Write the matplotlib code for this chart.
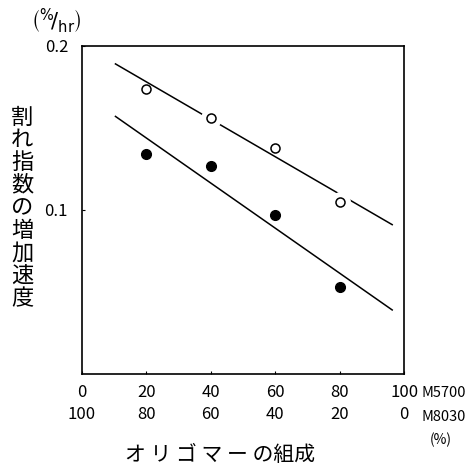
import matplotlib
matplotlib.use("Agg")
import matplotlib.pyplot as plt
import numpy as np

plt.rcParams["font.family"] = ["Noto Sans CJK JP", "DejaVu Sans"]

# composition (% M5700), M8030 = 100 - M5700
m5700 = [0, 20, 40, 60, 80, 100]
m8030 = [100, 80, 60, 40, 20, 0]

# measured points
x_pts = [20, 40, 60, 80]
open_rate = [0.174, 0.156, 0.138, 0.105]
filled_rate = [0.134, 0.127, 0.097, 0.053]
open_gap = [False, True, False, True]  # line broken around these circles

# fitted straight lines (end points)
fit_x = [10.4, 96.3]
open_fit = [0.189, 0.091]
filled_fit = [0.157, 0.039]

fig = plt.figure(figsize=(4.71, 4.68), dpi=100)
ax = fig.add_axes([0.174, 0.201, 0.684, 0.701])

ax.plot(fit_x, open_fit, color="black", lw=1.1, zorder=2)
ax.plot(fit_x, filled_fit, color="black", lw=1.1, zorder=2)

gx = [x for x, g in zip(x_pts, open_gap) if g]
gy = [y for y, g in zip(open_rate, open_gap) if g]
ax.plot(gx, gy, "o", ms=14, mfc="white", mec="white", zorder=3)
ax.plot(x_pts, open_rate, "o", ms=6.5, mfc="white", mec="black", mew=1.1, zorder=4)
ax.plot(x_pts, filled_rate, "o", ms=7, mfc="black", mec="black", zorder=4)

ax.set_xlim(0, 100)
ax.set_ylim(0, 0.2)
ax.set_xticks(m5700)
ax.set_xticklabels([f"{a}\n{b}" for a, b in zip(m5700, m8030)], fontsize=12)
for lab in ax.get_xticklabels():
    lab.set_linespacing(1.4)
ax.set_yticks([0.1, 0.2])
ax.set_yticklabels(["0.1", "0.2"], fontsize=12)
ax.tick_params(direction="in", length=2, width=0.8, pad=7)
ax.tick_params(axis="y", pad=10)
for s in ax.spines.values():
    s.set_linewidth(1.2)

ax.text(1.053, -0.058, "M5700", transform=ax.transAxes, fontsize=10.5, va="center", ha="left")
ax.text(1.053, -0.13, "M8030", transform=ax.transAxes, fontsize=10.5, va="center", ha="left")
fig.text(0.935, 0.06, "(%)", fontsize=10, ha="center", va="center")

fig.text(0.468, 0.028, "オ リ ゴ マ ー の組成", fontsize=15, ha="center", va="center")
fig.text(0.047, 0.556, "\n".join("割れ指数の増加速度"), fontsize=16,
         ha="center", va="center", linespacing=0.98)
fig.text(0.12, 0.955, r"$\left(^{\%}\!/_{\mathrm{hr}}\right)$", fontsize=15,
         ha="center", va="center")

fig.savefig("out.png", dpi=100)
